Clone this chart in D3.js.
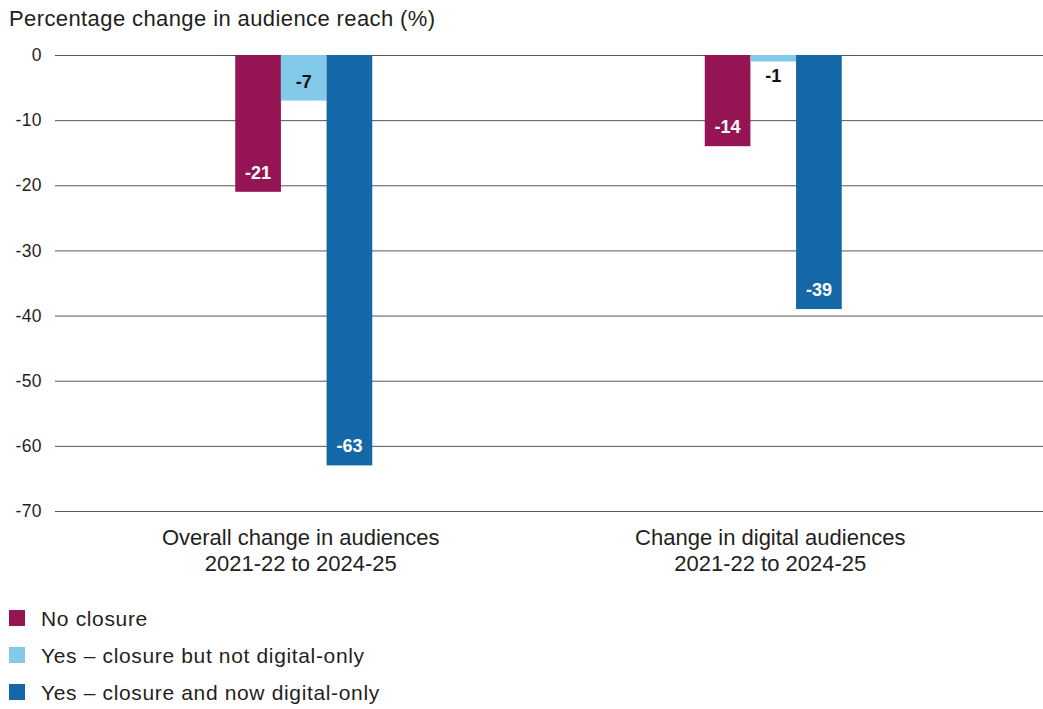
<!DOCTYPE html>
<html>
<head>
<meta charset="utf-8">
<script src="https://cdn.jsdelivr.net/npm/d3@7"></script>
<style>
  html, body { margin: 0; padding: 0; background: #fff; }
  svg { display: block; font-family: "Liberation Sans", Arial, sans-serif; }
</style>
</head>
<body>
<svg id="chart" width="1043" height="709"></svg>
<script>
// Audience reach change by closure status
const categories = [
  ["Overall change in audiences", "2021-22 to 2024-25"],
  ["Change in digital audiences", "2021-22 to 2024-25"]
];
const seriesNames = [
  "No closure",
  "Yes – closure but not digital-only",
  "Yes – closure and now digital-only"
];
const noClosure = [-21, -14];
const closureNotDigital = [-7, -1];
const closureDigitalOnly = [-63, -39];
const yTicks = [0, -10, -20, -30, -40, -50, -60, -70];
const colors = ["#951554", "#83c9e9", "#1568a8"];
const labelColors = ["#fff", "#111", "#fff"];

const seriesValues = [noClosure, closureNotDigital, closureDigitalOnly];

const svg = d3.select("#chart");
const textColor = "#231f20";
const fmt = v => String(Math.round(v)); // plain hyphen-minus

const y = d3.scaleLinear().domain([0, -70]).range([55, 511]);
const x0 = d3.scaleBand().domain(d3.range(categories.length)).range([69, 1008]).padding(0);
const x1 = d3.scaleBand().domain(d3.range(seriesNames.length)).range([0, 137]).padding(0);

// Title
svg.append("text")
  .attr("x", 9).attr("y", 26)
  .attr("font-size", 22).attr("fill", textColor)
  .attr("letter-spacing", 0.4)
  .text("Percentage change in audience reach (%)");

// Gridlines + y axis labels
const yAxis = d3.axisLeft(y).tickValues(yTicks).tickSize(-(1043 - 55)).tickPadding(13).tickFormat(fmt);
const gy = svg.append("g").attr("transform", "translate(55,0)").call(yAxis);
gy.select(".domain").remove();
gy.selectAll(".tick line").attr("stroke", "#555").attr("stroke-width", 1);
gy.selectAll(".tick text")
  .attr("font-size", 17.5).attr("fill", textColor)
  .attr("letter-spacing", 0.4)
  .attr("font-family", "Liberation Sans, Arial, sans-serif");

// Bars
const groups = svg.append("g").selectAll("g")
  .data(categories)
  .join("g")
  .attr("transform", (d, i) => `translate(${x0(i) + x0.bandwidth() / 2 - 68.5},0)`);

groups.each(function(cat, ci) {
  const g = d3.select(this);
  seriesValues.forEach((vals, si) => {
    const v = vals[ci];
    const top = y(0), bottom = y(v);
    g.append("rect")
      .attr("x", x1(si))
      .attr("y", top)
      .attr("width", x1.bandwidth())
      .attr("height", bottom - top)
      .attr("fill", colors[si]);
    const h = bottom - top;
    const inside = h > 30;
    g.append("text")
      .attr("x", x1(si) + x1.bandwidth() / 2)
      .attr("y", inside ? bottom - 13 : bottom + 20)
      .attr("text-anchor", "middle")
      .attr("font-size", 18)
      .attr("font-weight", "bold")
      .attr("fill", inside ? labelColors[si] : "#111")
      .text(fmt(v));
  });
});

// Category labels
categories.forEach((lines, i) => {
  const cx = x0(i) + x0.bandwidth() / 2 - 3;
  const t = svg.append("text")
    .attr("text-anchor", "middle")
    .attr("font-size", 22).attr("fill", textColor);
  lines.forEach((ln, k) => {
    t.append("tspan").attr("x", cx).attr("y", 545 + k * 26).text(ln);
  });
});

// Legend
const legend = svg.append("g");
seriesNames.forEach((name, i) => {
  const ly = 610 + i * 37;
  legend.append("rect")
    .attr("x", 9).attr("y", ly).attr("width", 16).attr("height", 16)
    .attr("fill", colors[i]);
  legend.append("text")
    .attr("x", 41).attr("y", ly + 16)
    .attr("font-size", 21).attr("fill", textColor)
    .attr("letter-spacing", 0.65)
    .text(name);
});
</script>
</body>
</html>
